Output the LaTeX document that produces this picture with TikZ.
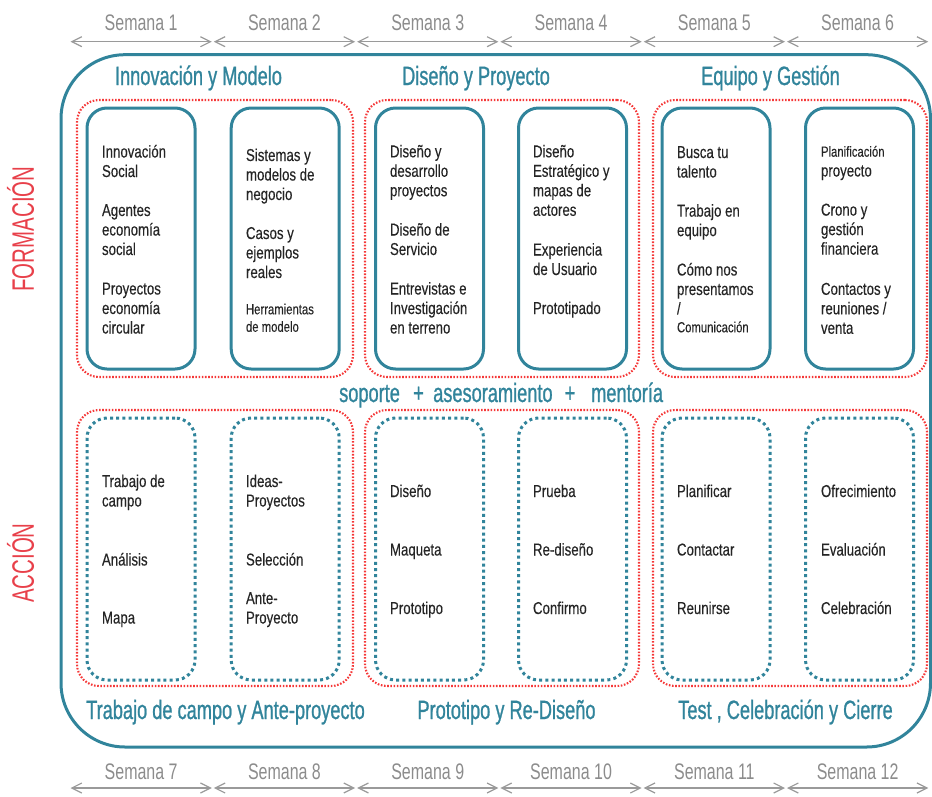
\documentclass[tikz,border=0pt]{standalone}
\usepackage{fontspec}
\setmainfont{Liberation Sans}
\newfontfamily\bodyf[FakeStretch=0.77,FakeBold=0.25]{Liberation Sans}
\newfontfamily\condf[FakeStretch=0.71]{Liberation Sans}
\newfontfamily\titlef[FakeStretch=0.687,FakeBold=0.9]{Liberation Sans}
\newfontfamily\sidef[FakeStretch=0.66]{Liberation Sans}
\usetikzlibrary{arrows.meta}
\definecolor{teal1}{HTML}{31849B}
\definecolor{redd}{HTML}{F53838}
\definecolor{redlab}{HTML}{E8404A}
\definecolor{txt}{HTML}{252525}
\definecolor{wgray}{HTML}{8C8C8C}
\definecolor{agray}{HTML}{9A9A9A}
\newcommand\Tst{\rule{0pt}{16pt}}
\tikzset{
  frame/.style={draw=teal1, line width=3pt, rounded corners=64pt},
  redgrp/.style={draw=redd, line width=2.1pt, dash pattern=on 1.6pt off 1.6pt, rounded corners=22pt, inner sep=0pt, minimum width=276pt},
  solbox/.style={draw=teal1, line width=3pt, rounded corners=20pt, inner sep=0pt, minimum width=108pt, minimum height=261pt},
  dotbox/.style={draw=teal1, line width=3pt, dash pattern=on 3pt off 3.2pt, rounded corners=20pt, inner sep=0pt, minimum width=108pt, minimum height=262pt},
  blk/.style={anchor=north west, inner sep=0pt, outer sep=0pt, align=left, text=txt, font=\bodyf\fontsize{17.2}{19.5}\selectfont},
  blks/.style={anchor=north west, inner sep=0pt, outer sep=0pt, align=left, text=txt, font=\bodyf\fontsize{14.7}{17.5}\selectfont},
  wk/.style={draw=agray, line width=1.2pt, <->, >={Straight Barb[length=10pt,width=10pt]}},
  wl/.style={anchor=base, inner sep=0pt, text=wgray, font=\condf\fontsize{22.5}{24}\selectfont},
  ttl/.style={anchor=base, inner sep=0pt, text=teal1, font=\titlef\fontsize{26.5}{28}\selectfont},
  sup/.style={anchor=base west, inner sep=0pt, text=teal1, font=\titlef\fontsize{26.5}{28}\selectfont},
  side/.style={inner sep=0pt, text=redlab, font=\sidef\fontsize{31}{32}\selectfont, rotate=90},
}
\begin{document}
\lineskiplimit=-8pt
\begin{tikzpicture}[x=1pt,y=-1pt]
\useasboundingbox (0,0) rectangle (932,796);
% week arrows
\foreach \i in {0,...,5}{
  \pgfmathsetmacro\xa{70.5+143.3*\i}
  \pgfmathsetmacro\xb{\xa+141.3}
  \pgfmathsetmacro\xm{\xa+70.65}
  \pgfmathtruncatemacro\na{\i+1}
  \pgfmathtruncatemacro\nb{\i+7}
  \coordinate (ta\na) at (\xa,41.7);
  \coordinate (tb\na) at (\xb,41.7);
  \draw[wk] (ta\na) -- (tb\na);
  \node[wl] (tl\na) at (\xm,30.5) {Semana \na};
  \coordinate (ba\nb) at (\xa,788);
  \coordinate (bb\nb) at (\xb,788);
  \draw[wk] (ba\nb) -- (bb\nb);
  \node[wl] (bl\nb) at (\xm,779) {Semana \nb};
}
% outer frame
\draw[frame] (61,54.7) rectangle (930.5,747);
% side labels
\node[side] (form) at (20.5,229) {FORMACIÓN};
\node[side] (acc) at (20.5,563) {ACCIÓN};
% titles
\node[ttl] (h1) at (198.5,85) {Innovación y Modelo};
\node[ttl] (h2) at (476,85) {Diseño y Proyecto};
\node[ttl] (h3) at (770.5,85) {Equipo y Gestión};
\node[ttl] (h4) at (225.5,719) {Trabajo de campo y Ante-proyecto};
\node[ttl] (h5) at (506.5,719) {Prototipo y Re-Diseño};
\node[ttl] (h6) at (785.5,719) {Test , Celebración y Cierre};
\node[sup] (sup1) at (339,402) {soporte};
\node[sup] (sup2) at (413,402) {+};
\node[sup] (sup3) at (433,402) {asesoramiento};
\node[sup] (sup4) at (564.5,402) {+};
\node[sup] (sup5) at (591,402) {mentoría};
% red groups
\node[redgrp, minimum height=277pt] (g1) at (215,238.5) {};
\node[redgrp, minimum height=277pt, minimum width=274pt] (g2) at (502,238.5) {};
\node[redgrp, minimum height=277pt, minimum width=274pt] (g3) at (790,238.5) {};
\node[redgrp, minimum height=276pt] (g4) at (215,548) {};
\node[redgrp, minimum height=276pt, minimum width=274pt] (g5) at (502,548) {};
\node[redgrp, minimum height=276pt, minimum width=274pt] (g6) at (790,548) {};
% boxes
\node[solbox] (s1) at (141,238.5) {};
\node[solbox] (s2) at (285.2,238.5) {};
\node[solbox] (s3) at (429.5,238.5) {};
\node[solbox] (s4) at (572.5,238.5) {};
\node[solbox] (s5) at (716,238.5) {};
\node[solbox] (s6) at (859.5,238.5) {};
\node[dotbox] (d1) at (141,549) {};
\node[dotbox] (d2) at (285.2,549) {};
\node[dotbox] (d3) at (429.5,549) {};
\node[dotbox] (d4) at (572.5,549) {};
\node[dotbox] (d5) at (716,549) {};
\node[dotbox] (d6) at (859.5,549) {};
% top texts
\node[blk] (t1a) at (102,141.5) {\Tst Innovación\\Social};
\node[blk] (t1b) at (102,200) {\Tst Agentes\\economía\\social};
\node[blk] (t1c) at (102,278.5) {\Tst Proyectos\\economía\\circular};
\node[blk] (t2a) at (246,145) {\Tst Sistemas y\\modelos de\\negocio};
\node[blk] (t2b) at (246,223) {\Tst Casos y\\ejemplos\\reales};
\node[blks] (t2c) at (246,298.3) {\Tst Herramientas\\de modelo};
\node[blk] (t3a) at (390,141.3) {\Tst Diseño y\\desarrollo\\proyectos};
\node[blk] (t3b) at (390,219.5) {\Tst Diseño de\\Servicio};
\node[blk] (t3c) at (390,278.5) {\Tst Entrevistas e\\Investigación\\en terreno};
\node[blk] (t4a) at (533,141.3) {\Tst Diseño\\Estratégico y\\mapas de\\actores};
\node[blk] (t4b) at (533,239.5) {\Tst Experiencia\\de Usuario};
\node[blk] (t4c) at (533,298) {\Tst Prototipado};
\node[blk] (t5a) at (677,142) {\Tst Busca tu\\talento};
\node[blk] (t5b) at (677,200.6) {\Tst Trabajo en\\equipo};
\node[blk] (t5c) at (677,259.5) {\Tst Cómo nos\\presentamos\\/};
\node[blks] (t5d) at (677,316.3) {\Tst Comunicación};
\node[blks] (t6a) at (821,140.7) {\Tst Planificación};
\node[blk] (t6b) at (821,160.5) {\Tst proyecto};
\node[blk] (t6c) at (821,199.6) {\Tst Crono y\\gestión\\financiera};
\node[blk] (t6d) at (821,278.8) {\Tst Contactos y\\reuniones /\\venta};
% bottom texts
\node[blk] (a1a) at (102,471) {\Tst Trabajo de\\campo};
\node[blk] (a1b) at (102,549.5) {\Tst Análisis};
\node[blk] (a1c) at (102,607.5) {\Tst Mapa};
\node[blk] (a2a) at (246,471) {\Tst Ideas-\\Proyectos};
\node[blk] (a2b) at (246,549.5) {\Tst Selección};
\node[blk] (a2c) at (246,588) {\Tst Ante-\\Proyecto};
\node[blk] (a3a) at (390,481) {\Tst Diseño};
\node[blk] (a3b) at (390,539.5) {\Tst Maqueta};
\node[blk] (a3c) at (390,598) {\Tst Prototipo};
\node[blk] (a4a) at (533,481) {\Tst Prueba};
\node[blk] (a4b) at (533,539.5) {\Tst Re-diseño};
\node[blk] (a4c) at (533,598) {\Tst Confirmo};
\node[blk] (a5a) at (677,481) {\Tst Planificar};
\node[blk] (a5b) at (677,539.5) {\Tst Contactar};
\node[blk] (a5c) at (677,598) {\Tst Reunirse};
\node[blk] (a6a) at (821,481) {\Tst Ofrecimiento};
\node[blk] (a6b) at (821,539.5) {\Tst Evaluación};
\node[blk] (a6c) at (821,598) {\Tst Celebración};
\end{tikzpicture}
\end{document}
